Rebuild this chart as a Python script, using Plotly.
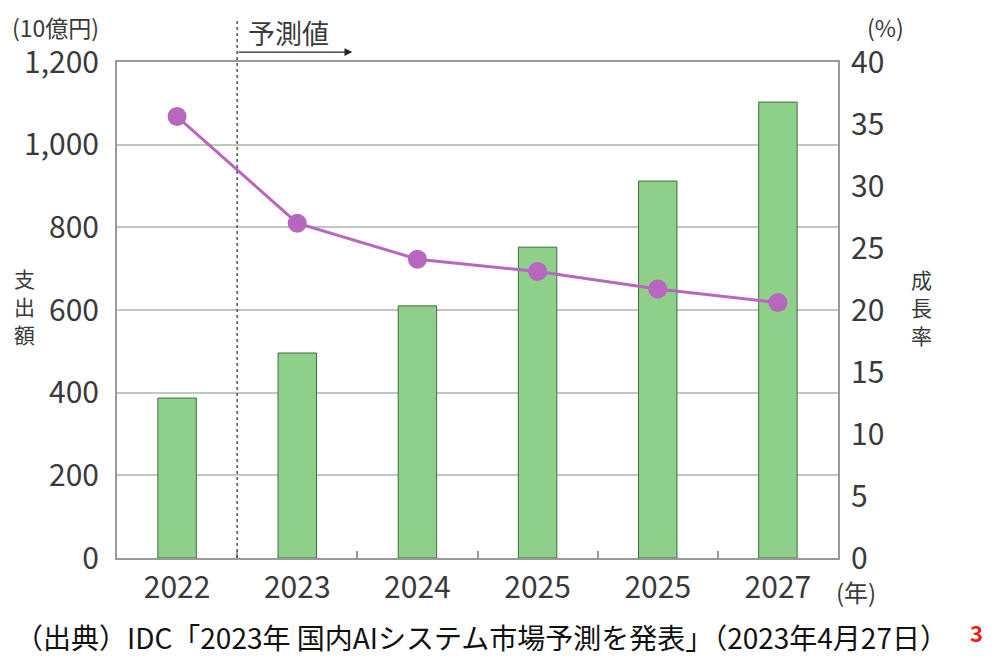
import plotly.graph_objects as go

years = ["2022", "2023", "2024", "2025", "2025", "2027"]
spending = [387, 496, 610, 752, 912, 1103]
growth = [35.6, 27.0, 24.1, 23.1, 21.7, 20.6]
left_ticks = [0, 200, 400, 600, 800, 1000, 1200]
left_labels = ["0", "200", "400", "600", "800", "1,000", "1,200"]
right_ticks = [0, 5, 10, 15, 20, 25, 30, 35, 40]

FONT = "Noto Sans CJK JP"
TXT = "#3a3a3a"
xs = list(range(len(years)))

fig = go.Figure()
fig.add_trace(go.Bar(
    x=xs, y=spending, width=0.32,
    marker=dict(color="#8ed08a", line=dict(color="#3f6e3c", width=1)),
    yaxis="y", showlegend=False,
))
fig.add_trace(go.Scatter(
    x=xs, y=growth, mode="lines+markers",
    line=dict(color="#b767bd", width=3),
    marker=dict(color="#b767bd", size=19),
    yaxis="y2", showlegend=False,
))

fig.update_layout(
    width=1000, height=672,
    margin=dict(l=109, r=170, t=54, b=122),
    paper_bgcolor="white", plot_bgcolor="white",
    font=dict(family=FONT, color=TXT, size=30),
    xaxis=dict(
        range=[-0.5, 5.5], tickvals=xs, ticktext=years, ticks="",
        showgrid=False, zeroline=False, showline=True, linecolor="#999999", linewidth=2,
        mirror=True, tickfont=dict(size=30, color=TXT), ticklabelstandoff=2,
        minor=dict(tickvals=[0.5, 1.5, 2.5, 3.5, 4.5], ticks="inside", ticklen=7,
                   tickcolor="#999999", tickwidth=2, showgrid=False),
    ),
    yaxis=dict(
        range=[0, 1200], tickvals=left_ticks, ticktext=left_labels,
        showgrid=True, gridcolor="#c4c4c4", gridwidth=1.5, zeroline=False,
        showline=True, linecolor="#999999", linewidth=2, mirror=True,
        tickfont=dict(size=30, color=TXT), ticks="", ticklabelstandoff=10,
    ),
    yaxis2=dict(
        range=[0, 40], tickvals=right_ticks, overlaying="y", side="right",
        showgrid=False, zeroline=False, showline=False, ticks="",
        tickfont=dict(size=30, color=TXT), ticklabelstandoff=12,
    ),
)

# forecast divider
fig.add_shape(type="line", xref="x", yref="paper", x0=0.5, x1=0.5, y0=0, y1=1.089,
              line=dict(color="#555555", width=1.5, dash="dot"))
fig.add_annotation(xref="x", yref="paper", axref="x", ayref="pixel",
                   x=1.458, y=1.02, ax=0.5, ay=0, text="", showarrow=True,
                   arrowhead=2, arrowsize=1.2, arrowwidth=1.3, arrowcolor="#222222")
fig.add_annotation(xref="x", yref="paper", x=0.575, y=1.0585, text="予測値",
                   showarrow=False, xanchor="left", yanchor="middle",
                   font=dict(size=27, color=TXT))

# axis titles
fig.add_annotation(xref="paper", yref="paper", x=-0.148, y=1.0706, text="(10億円)",
                   showarrow=False, xanchor="left", yanchor="middle",
                   font=dict(size=23, color=TXT))
fig.add_annotation(xref="paper", yref="paper", x=1.038, y=1.0706, text="(%)",
                   showarrow=False, xanchor="left", yanchor="middle",
                   font=dict(size=23, color=TXT))
for ch, yy in zip(["支", "出", "額"], [0.565, 0.508, 0.451]):
    fig.add_annotation(xref="paper", yref="paper", x=-0.128, y=yy, text=ch,
                       showarrow=False, xanchor="center", yanchor="middle",
                       font=dict(size=21, color=TXT))
for ch, yy in zip(["成", "長", "率"], [0.563, 0.506, 0.449]):
    fig.add_annotation(xref="paper", yref="paper", x=1.1165, y=yy, text=ch,
                       showarrow=False, xanchor="center", yanchor="middle",
                       font=dict(size=21, color=TXT))
fig.add_annotation(xref="paper", yref="paper", x=0.9945, y=-0.068, text="(年)",
                   showarrow=False, xanchor="left", yanchor="middle",
                   font=dict(size=24, color=TXT))

# source
fig.add_annotation(xref="paper", yref="paper", x=-0.144, y=-0.159,
                   text="（出典）IDC「2023年 国内AIシステム市場予測を発表」（2023年4月27日）",
                   showarrow=False, xanchor="left", yanchor="middle",
                   font=dict(size=28, color="#111111"))
fig.add_annotation(xref="paper", yref="paper", x=1.180, y=-0.149, text="<b>3</b>",
                   showarrow=False, xanchor="left", yanchor="middle",
                   font=dict(size=22, color="#e8211c"))

fig.write_html("out.html")
